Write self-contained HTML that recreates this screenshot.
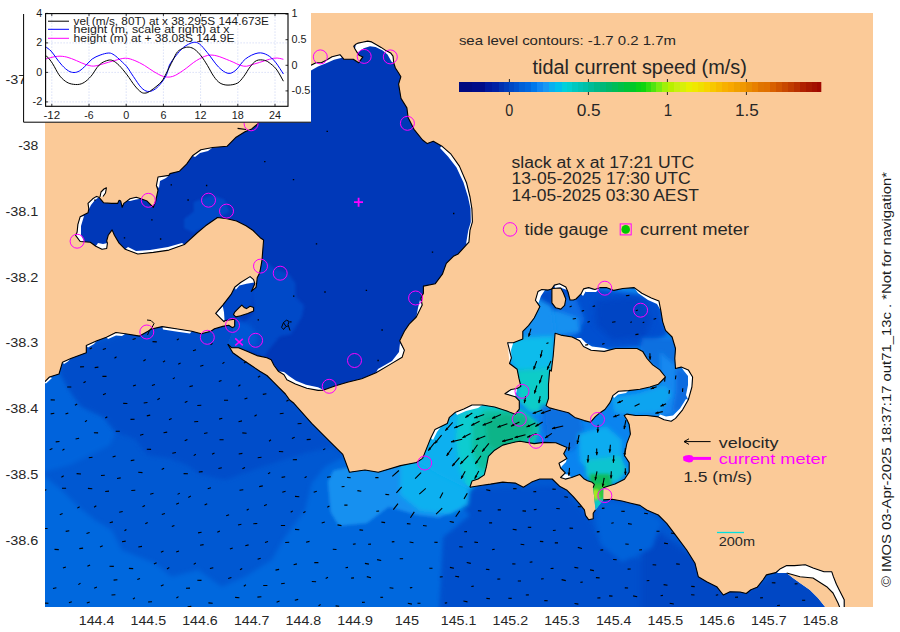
<!DOCTYPE html><html><head><meta charset="utf-8"><style>html,body{margin:0;padding:0;background:#fff;overflow:hidden}svg{display:block}text{font-family:"Liberation Sans",sans-serif}</style></head><body>
<svg width="900" height="632" viewBox="0 0 900 632">
<defs><clipPath id="mc"><rect x="45" y="13" width="828" height="594"/></clipPath>
<clipPath id="c_oc"><polygon points="44.0,382.5 49.5,377.0 59.0,374.0 62.5,362.2 70.8,358.6 86.3,352.7 86.3,345.6 96.9,340.8 106.4,337.3 115.9,332.5 125.4,333.7 139.6,336.1 148.0,331.3 151.5,329.0 162.2,326.6 177.6,329.0 191.8,331.3 201.3,333.7 210.9,331.2 214.5,328.8 222.8,326.4 228.7,325.2 232.3,327.6 234.7,326.4 227.8,344.2 232.8,352.7 242.7,359.8 251.3,365.5 259.8,371.2 266.9,375.5 272.6,381.2 278.3,386.9 285.4,394.0 289.7,400.0 293.9,403.3 311.7,423.3 329.4,441.1 342.8,454.4 349.4,472.2 365.0,470.0 378.3,472.2 400.6,465.6 416.5,462.5 422.6,458.4 469.9,487.2 482.3,485.2 490.5,484.1 502.8,482.1 515.2,483.1 523.4,487.2 531.6,482.1 539.8,479.0 552.2,479.0 560.0,486.6 566.6,489.9 573.3,496.6 580.0,504.3 584.4,509.9 585.5,515.4 588.8,519.8 593.2,518.7 593.2,513.2 595.5,509.9 603.2,499.9 612.1,499.3 622.0,501.0 630.9,503.2 640.0,505.4 646.7,510.0 658.3,515.0 666.7,523.3 676.7,536.7 686.7,550.0 695.0,563.3 698.3,576.7 706.7,581.7 716.7,586.7 723.3,595.0 730.0,591.7 740.0,592.0 746.2,593.5 750.9,589.7 757.1,587.3 763.3,579.5 766.4,574.9 775.8,572.6 780.4,568.7 786.7,565.6 794.4,565.6 805.3,564.8 813.1,567.9 824.0,571.8 831.8,571.8 833.3,576.4 836.4,584.2 839.5,590.4 844.2,599.8 844.2,608.0 45.0,608.0"/></clipPath>
<clipPath id="c_bay"><polygon points="240.0,100.0 311.0,65.3 316.0,62.7 321.3,62.7 326.7,60.0 332.0,56.7 340.0,54.7 344.0,59.3 353.3,59.3 358.7,62.7 360.6,60.1 362.9,56.9 359.0,55.3 357.4,52.9 355.0,49.0 353.8,46.2 355.8,44.2 358.2,43.1 362.2,42.3 367.7,41.1 371.6,41.9 375.6,44.2 381.1,47.4 385.9,50.6 390.6,52.9 393.0,56.1 393.8,63.2 395.4,68.0 398.5,72.7 400.9,76.7 398.6,84.2 401.0,98.4 406.9,107.9 408.1,117.4 414.0,129.3 422.6,140.0 427.3,143.6 433.3,141.2 441.6,145.9 451.0,154.2 459.4,166.1 466.5,182.7 470.0,197.0 471.9,208.8 472.4,221.9 470.0,230.2 468.9,242.1 458.2,253.9 453.4,256.3 446.3,263.4 442.4,274.2 435.3,283.7 423.4,286.1 423.4,293.2 421.0,298.0 422.2,305.1 416.3,317.0 409.2,324.1 404.4,331.2 399.7,340.7 404.4,350.2 402.1,357.3 390.2,364.4 376.0,372.7 361.7,378.7 347.5,382.2 335.6,385.8 323.7,390.1 318.2,390.4 306.8,388.3 295.4,384.0 286.9,379.8 284.0,374.8 278.3,371.2 274.1,365.5 271.2,359.8 266.9,357.7 257.0,355.6 247.0,351.3 238.5,347.7 231.4,347.7 227.8,344.2 234.7,326.4 234.7,319.3 225.2,320.5 224.0,321.7 220.4,318.1 215.7,313.4 222.8,305.1 231.1,294.4 234.7,287.3 240.6,282.5 250.1,276.6 253.6,279.6 254.8,283.7 252.5,289.0 251.3,291.4 256.0,287.3 256.6,283.7 257.2,277.8 259.6,273.0 260.8,267.1 262.0,260.0 263.6,240.0 260.2,237.7 253.1,230.5 246.0,225.8 236.5,221.0 227.0,218.7 217.5,217.5 205.6,225.8 197.0,233.0 184.4,244.6 168.9,250.1 153.3,252.4 137.8,254.0 125.3,249.3 119.1,243.1 114.4,235.3 112.1,229.9 108.2,235.3 106.7,240.8 107.4,243.1 106.7,248.5 102.0,249.3 95.8,246.2 90.3,242.3 80.2,241.5 75.6,235.3 77.1,232.2 77.9,224.4 80.2,216.7 88.0,212.8 88.8,208.9 88.0,203.4 92.7,198.8 96.5,196.4 98.9,197.2 103.5,202.7 111.3,203.4 117.6,203.4 119.1,200.3 120.7,201.1 122.2,207.3 123.8,203.4 126.9,201.1 130.0,198.8 136.2,197.2 140.9,198.8 147.1,201.1 153.3,207.3 155.7,201.1 158.0,190.2 156.4,185.6 158.0,177.0 168.9,175.4 170.0,173.6 179.5,171.2 186.6,164.1 192.5,155.8 200.9,149.8 212.7,147.5 227.0,146.3 236.1,137.2 245.0,131.7 251.7,128.9 258.3,123.3 262.0,115.0"/></clipPath>
<clipPath id="c_wp"><polygon points="422.6,458.4 426.7,448.1 430.8,437.9 435.0,429.6 441.1,426.6 447.3,423.5 449.4,417.3 455.5,412.2 463.8,409.1 472.0,405.0 482.3,405.0 494.6,407.0 506.9,411.1 515.2,414.2 519.3,409.1 519.3,400.8 515.2,396.7 504.9,393.7 511.1,389.5 517.2,388.5 520.9,386.3 519.0,378.7 517.1,369.2 509.5,363.5 511.4,357.8 507.6,342.7 513.3,342.7 522.8,338.9 522.8,331.3 528.5,325.6 534.2,318.0 539.9,306.6 535.4,300.3 538.0,291.4 541.8,289.5 548.1,290.1 551.9,288.9 554.4,285.1 559.5,283.8 565.8,287.0 568.0,292.0 570.0,300.0 573.4,300.0 576.0,299.0 581.0,293.9 583.5,288.9 588.6,287.6 594.9,289.5 600.6,287.6 606.3,287.6 613.9,290.4 622.8,288.5 634.2,287.6 641.8,293.3 651.3,298.0 658.9,300.9 660.8,310.4 662.7,321.8 665.5,330.3 672.1,337.0 675.5,348.5 674.8,358.5 675.5,368.5 681.2,367.1 688.3,369.9 692.6,377.0 691.9,387.0 688.3,399.8 682.6,409.8 675.5,418.4 671.2,421.2 664.1,419.8 658.4,416.9 647.0,415.5 635.6,415.5 627.0,414.1 624.2,415.5 627.0,419.8 629.2,424.6 630.4,434.1 626.8,443.6 624.5,455.5 629.2,462.6 629.2,472.1 624.5,479.2 615.0,484.0 607.8,486.3 603.2,487.7 603.2,499.9 595.5,509.9 593.2,487.7 594.3,484.4 592.2,482.3 587.5,480.7 584.3,479.1 579.6,474.4 571.6,477.5 565.3,479.1 560.6,477.5 565.3,472.8 560.6,468.0 559.0,463.3 566.9,458.5 563.7,453.8 566.9,447.5 555.8,442.7 543.7,442.4 534.2,443.6 520.0,441.2 515.2,442.0 502.8,445.1 494.6,450.2 488.4,456.4 486.4,466.7 484.3,474.9 478.1,479.0 472.0,481.1 469.9,487.2"/></clipPath>
<clipPath id="c_wo"><polygon points="422.6,458.4 426.7,448.1 430.8,437.9 435.0,429.6 441.1,426.6 447.3,423.5 449.4,417.3 455.5,412.2 463.8,409.1 472.0,405.0 482.3,405.0 494.6,407.0 506.9,411.1 515.2,414.2 519.3,409.1 519.3,400.8 515.2,396.7 504.9,393.7 511.1,389.5 517.2,388.5 520.9,386.3 519.0,378.7 517.1,369.2 509.5,363.5 511.4,357.8 507.6,342.7 513.3,342.7 522.8,338.9 522.8,331.3 528.5,325.6 534.2,318.0 539.9,306.6 535.4,300.3 538.0,291.4 541.8,289.5 548.1,290.1 551.9,288.9 554.4,285.1 559.5,283.8 565.8,287.0 568.0,292.0 570.0,300.0 573.4,300.0 576.0,299.0 581.0,293.9 583.5,288.9 588.6,287.6 594.9,289.5 600.6,287.6 606.3,287.6 613.9,290.4 622.8,288.5 634.2,287.6 641.8,293.3 651.3,298.0 658.9,300.9 660.8,310.4 662.7,321.8 665.5,330.3 672.1,337.0 675.5,348.5 674.8,358.5 675.5,368.5 681.2,367.1 688.3,369.9 692.6,377.0 691.9,387.0 688.3,399.8 682.6,409.8 675.5,418.4 671.2,421.2 664.1,419.8 658.4,416.9 647.0,415.5 635.6,415.5 627.0,414.1 624.2,415.5 627.0,419.8 629.2,424.6 630.4,434.1 626.8,443.6 624.5,455.5 629.2,462.6 629.2,472.1 624.5,479.2 615.0,484.0 607.8,486.3 603.2,487.7 603.2,499.9 595.5,509.9 593.2,487.7 594.3,484.4 592.2,482.3 587.5,480.7 584.3,479.1 579.6,474.4 571.6,477.5 565.3,479.1 560.6,477.5 565.3,472.8 560.6,468.0 559.0,463.3 566.9,458.5 563.7,453.8 566.9,447.5 555.8,442.7 543.7,442.4 534.2,443.6 520.0,441.2 515.2,442.0 502.8,445.1 494.6,450.2 488.4,456.4 486.4,466.7 484.3,474.9 478.1,479.0 472.0,481.1 469.9,487.2"/><polygon points="44.0,382.5 49.5,377.0 59.0,374.0 62.5,362.2 70.8,358.6 86.3,352.7 86.3,345.6 96.9,340.8 106.4,337.3 115.9,332.5 125.4,333.7 139.6,336.1 148.0,331.3 151.5,329.0 162.2,326.6 177.6,329.0 191.8,331.3 201.3,333.7 210.9,331.2 214.5,328.8 222.8,326.4 228.7,325.2 232.3,327.6 234.7,326.4 227.8,344.2 232.8,352.7 242.7,359.8 251.3,365.5 259.8,371.2 266.9,375.5 272.6,381.2 278.3,386.9 285.4,394.0 289.7,400.0 293.9,403.3 311.7,423.3 329.4,441.1 342.8,454.4 349.4,472.2 365.0,470.0 378.3,472.2 400.6,465.6 416.5,462.5 422.6,458.4 469.9,487.2 482.3,485.2 490.5,484.1 502.8,482.1 515.2,483.1 523.4,487.2 531.6,482.1 539.8,479.0 552.2,479.0 560.0,486.6 566.6,489.9 573.3,496.6 580.0,504.3 584.4,509.9 585.5,515.4 588.8,519.8 593.2,518.7 593.2,513.2 595.5,509.9 603.2,499.9 612.1,499.3 622.0,501.0 630.9,503.2 640.0,505.4 646.7,510.0 658.3,515.0 666.7,523.3 676.7,536.7 686.7,550.0 695.0,563.3 698.3,576.7 706.7,581.7 716.7,586.7 723.3,595.0 730.0,591.7 740.0,592.0 746.2,593.5 750.9,589.7 757.1,587.3 763.3,579.5 766.4,574.9 775.8,572.6 780.4,568.7 786.7,565.6 794.4,565.6 805.3,564.8 813.1,567.9 824.0,571.8 831.8,571.8 833.3,576.4 836.4,584.2 839.5,590.4 844.2,599.8 844.2,608.0 45.0,608.0"/></clipPath>
<filter id="b1" x="-30%" y="-30%" width="160%" height="160%"><feGaussianBlur stdDeviation="1"/></filter>
<filter id="b1_5" x="-30%" y="-30%" width="160%" height="160%"><feGaussianBlur stdDeviation="1.5"/></filter>
<filter id="b2" x="-30%" y="-30%" width="160%" height="160%"><feGaussianBlur stdDeviation="2"/></filter>
<filter id="b3" x="-30%" y="-30%" width="160%" height="160%"><feGaussianBlur stdDeviation="3"/></filter>
<filter id="b4" x="-30%" y="-30%" width="160%" height="160%"><feGaussianBlur stdDeviation="4"/></filter>
<filter id="b5" x="-30%" y="-30%" width="160%" height="160%"><feGaussianBlur stdDeviation="5"/></filter>
</defs>
<rect width="900" height="632" fill="#fff"/>
<g clip-path="url(#mc)">
<rect x="45" y="13" width="828" height="594" fill="#FBCA98"/>
<polygon points="44.0,382.5 49.5,377.0 59.0,374.0 62.5,362.2 70.8,358.6 86.3,352.7 86.3,345.6 96.9,340.8 106.4,337.3 115.9,332.5 125.4,333.7 139.6,336.1 148.0,331.3 151.5,329.0 162.2,326.6 177.6,329.0 191.8,331.3 201.3,333.7 210.9,331.2 214.5,328.8 222.8,326.4 228.7,325.2 232.3,327.6 234.7,326.4 227.8,344.2 232.8,352.7 242.7,359.8 251.3,365.5 259.8,371.2 266.9,375.5 272.6,381.2 278.3,386.9 285.4,394.0 289.7,400.0 293.9,403.3 311.7,423.3 329.4,441.1 342.8,454.4 349.4,472.2 365.0,470.0 378.3,472.2 400.6,465.6 416.5,462.5 422.6,458.4 469.9,487.2 482.3,485.2 490.5,484.1 502.8,482.1 515.2,483.1 523.4,487.2 531.6,482.1 539.8,479.0 552.2,479.0 560.0,486.6 566.6,489.9 573.3,496.6 580.0,504.3 584.4,509.9 585.5,515.4 588.8,519.8 593.2,518.7 593.2,513.2 595.5,509.9 603.2,499.9 612.1,499.3 622.0,501.0 630.9,503.2 640.0,505.4 646.7,510.0 658.3,515.0 666.7,523.3 676.7,536.7 686.7,550.0 695.0,563.3 698.3,576.7 706.7,581.7 716.7,586.7 723.3,595.0 730.0,591.7 740.0,592.0 746.2,593.5 750.9,589.7 757.1,587.3 763.3,579.5 766.4,574.9 775.8,572.6 780.4,568.7 786.7,565.6 794.4,565.6 805.3,564.8 813.1,567.9 824.0,571.8 831.8,571.8 833.3,576.4 836.4,584.2 839.5,590.4 844.2,599.8 844.2,608.0 45.0,608.0" fill="#0058D2" />
<polygon points="240.0,100.0 311.0,65.3 316.0,62.7 321.3,62.7 326.7,60.0 332.0,56.7 340.0,54.7 344.0,59.3 353.3,59.3 358.7,62.7 360.6,60.1 362.9,56.9 359.0,55.3 357.4,52.9 355.0,49.0 353.8,46.2 355.8,44.2 358.2,43.1 362.2,42.3 367.7,41.1 371.6,41.9 375.6,44.2 381.1,47.4 385.9,50.6 390.6,52.9 393.0,56.1 393.8,63.2 395.4,68.0 398.5,72.7 400.9,76.7 398.6,84.2 401.0,98.4 406.9,107.9 408.1,117.4 414.0,129.3 422.6,140.0 427.3,143.6 433.3,141.2 441.6,145.9 451.0,154.2 459.4,166.1 466.5,182.7 470.0,197.0 471.9,208.8 472.4,221.9 470.0,230.2 468.9,242.1 458.2,253.9 453.4,256.3 446.3,263.4 442.4,274.2 435.3,283.7 423.4,286.1 423.4,293.2 421.0,298.0 422.2,305.1 416.3,317.0 409.2,324.1 404.4,331.2 399.7,340.7 404.4,350.2 402.1,357.3 390.2,364.4 376.0,372.7 361.7,378.7 347.5,382.2 335.6,385.8 323.7,390.1 318.2,390.4 306.8,388.3 295.4,384.0 286.9,379.8 284.0,374.8 278.3,371.2 274.1,365.5 271.2,359.8 266.9,357.7 257.0,355.6 247.0,351.3 238.5,347.7 231.4,347.7 227.8,344.2 234.7,326.4 234.7,319.3 225.2,320.5 224.0,321.7 220.4,318.1 215.7,313.4 222.8,305.1 231.1,294.4 234.7,287.3 240.6,282.5 250.1,276.6 253.6,279.6 254.8,283.7 252.5,289.0 251.3,291.4 256.0,287.3 256.6,283.7 257.2,277.8 259.6,273.0 260.8,267.1 262.0,260.0 263.6,240.0 260.2,237.7 253.1,230.5 246.0,225.8 236.5,221.0 227.0,218.7 217.5,217.5 205.6,225.8 197.0,233.0 184.4,244.6 168.9,250.1 153.3,252.4 137.8,254.0 125.3,249.3 119.1,243.1 114.4,235.3 112.1,229.9 108.2,235.3 106.7,240.8 107.4,243.1 106.7,248.5 102.0,249.3 95.8,246.2 90.3,242.3 80.2,241.5 75.6,235.3 77.1,232.2 77.9,224.4 80.2,216.7 88.0,212.8 88.8,208.9 88.0,203.4 92.7,198.8 96.5,196.4 98.9,197.2 103.5,202.7 111.3,203.4 117.6,203.4 119.1,200.3 120.7,201.1 122.2,207.3 123.8,203.4 126.9,201.1 130.0,198.8 136.2,197.2 140.9,198.8 147.1,201.1 153.3,207.3 155.7,201.1 158.0,190.2 156.4,185.6 158.0,177.0 168.9,175.4 170.0,173.6 179.5,171.2 186.6,164.1 192.5,155.8 200.9,149.8 212.7,147.5 227.0,146.3 236.1,137.2 245.0,131.7 251.7,128.9 258.3,123.3 262.0,115.0" fill="#0038B8" />
<polygon points="422.6,458.4 426.7,448.1 430.8,437.9 435.0,429.6 441.1,426.6 447.3,423.5 449.4,417.3 455.5,412.2 463.8,409.1 472.0,405.0 482.3,405.0 494.6,407.0 506.9,411.1 515.2,414.2 519.3,409.1 519.3,400.8 515.2,396.7 504.9,393.7 511.1,389.5 517.2,388.5 520.9,386.3 519.0,378.7 517.1,369.2 509.5,363.5 511.4,357.8 507.6,342.7 513.3,342.7 522.8,338.9 522.8,331.3 528.5,325.6 534.2,318.0 539.9,306.6 535.4,300.3 538.0,291.4 541.8,289.5 548.1,290.1 551.9,288.9 554.4,285.1 559.5,283.8 565.8,287.0 568.0,292.0 570.0,300.0 573.4,300.0 576.0,299.0 581.0,293.9 583.5,288.9 588.6,287.6 594.9,289.5 600.6,287.6 606.3,287.6 613.9,290.4 622.8,288.5 634.2,287.6 641.8,293.3 651.3,298.0 658.9,300.9 660.8,310.4 662.7,321.8 665.5,330.3 672.1,337.0 675.5,348.5 674.8,358.5 675.5,368.5 681.2,367.1 688.3,369.9 692.6,377.0 691.9,387.0 688.3,399.8 682.6,409.8 675.5,418.4 671.2,421.2 664.1,419.8 658.4,416.9 647.0,415.5 635.6,415.5 627.0,414.1 624.2,415.5 627.0,419.8 629.2,424.6 630.4,434.1 626.8,443.6 624.5,455.5 629.2,462.6 629.2,472.1 624.5,479.2 615.0,484.0 607.8,486.3 603.2,487.7 603.2,499.9 595.5,509.9 593.2,487.7 594.3,484.4 592.2,482.3 587.5,480.7 584.3,479.1 579.6,474.4 571.6,477.5 565.3,479.1 560.6,477.5 565.3,472.8 560.6,468.0 559.0,463.3 566.9,458.5 563.7,453.8 566.9,447.5 555.8,442.7 543.7,442.4 534.2,443.6 520.0,441.2 515.2,442.0 502.8,445.1 494.6,450.2 488.4,456.4 486.4,466.7 484.3,474.9 478.1,479.0 472.0,481.1 469.9,487.2" fill="#0A84F0" />
<g clip-path="url(#c_oc)">
<polygon points="40.0,378.0 60.0,372.0 69.0,389.0 81.0,406.0 104.0,417.0 116.0,432.0 110.0,445.0 90.0,455.0 70.0,465.0 40.0,473.0" fill="#0064DC" filter="url(#b2)"/>
<polygon points="60.0,372.0 70.0,355.0 90.0,345.0 150.0,327.0 240.0,318.0 300.0,410.0 345.0,457.0 332.0,447.0 305.0,453.0 262.0,467.0 225.0,480.0 199.0,474.0 187.0,465.0 168.0,458.0 147.0,455.0 135.0,439.0 116.0,432.0 104.0,417.0 81.0,406.0 69.0,389.0" fill="#004ECA" filter="url(#b2)"/>
<polygon points="40.0,473.0 61.7,490.0 78.3,506.7 95.0,520.0 111.7,530.0 121.7,550.0 155.0,563.3 171.7,576.7 198.3,570.0 221.7,586.7 245.0,576.7 271.7,560.0 285.0,536.7 305.0,510.0 311.7,483.3 325.0,466.7 345.0,456.7 360.0,470.0 400.0,500.0 472.0,500.0 480.0,520.0 470.0,530.0 444.0,537.0 440.0,612.0 40.0,612.0" fill="#0068DE" filter="url(#b2)"/>
<polygon points="445.0,490.0 560.0,486.0 590.0,520.0 600.0,545.0 640.0,560.0 700.0,575.0 735.0,612.0 440.0,612.0 444.0,537.0 470.0,515.0" fill="#0050CC" filter="url(#b2)"/>
<polygon points="641.0,520.0 700.0,560.0 750.0,588.0 790.0,566.0 830.0,575.0 850.0,612.0 641.0,612.0" fill="#0046C4" filter="url(#b3)"/>
<polygon points="598.0,500.0 640.0,505.0 662.0,522.0 652.0,548.0 622.0,562.0 602.0,545.0 596.0,522.0" fill="#0062DA" filter="url(#b2)"/>
<polygon points="327.8,481.7 333.3,470.6 347.2,467.8 405.6,465.0 427.8,456.7 466.7,481.7 461.0,506.7 438.9,517.8 416.7,515.0 388.9,506.7 366.7,523.3 338.9,526.1 330.6,512.2" fill="#1890F0" filter="url(#b1_5)"/>
<polygon points="400.0,462.0 424.0,456.0 470.0,487.0 468.0,505.0 450.0,514.0 420.0,511.0 400.0,495.0" fill="#10B0F0" filter="url(#b2)"/>
</g>
<g clip-path="url(#c_bay)">
<polygon points="262.0,258.0 273.0,267.7 288.7,274.3 295.3,283.2 295.3,296.5 304.2,305.4 302.0,316.5 295.3,327.6 290.9,334.2 279.8,336.4 268.7,349.7 264.3,356.4 250.0,352.0 235.0,348.0 228.0,344.0 240.0,326.0 254.0,312.0 252.0,292.0 256.0,280.0" fill="#0048C8" filter="url(#b1_5)"/>
<polygon points="193.7,202.0 212.7,195.0 224.6,199.7 229.3,211.6 217.5,218.7 205.6,225.8 193.7,232.9 184.2,228.2 184.2,218.7 193.7,211.6" fill="#0048C8" filter="url(#b1)"/>
<polygon points="212.0,330.0 222.0,320.0 235.0,318.0 250.0,325.0 258.0,335.0 256.0,346.0 240.0,349.0 228.0,347.0 214.0,338.0" fill="#0056D4" filter="url(#b2)"/>
<polygon points="216.0,312.0 236.0,284.0 252.0,278.0 254.0,292.0 252.0,306.0 236.0,318.0 224.0,322.0" fill="#0046C8" filter="url(#b1_5)"/>
</g>
<g clip-path="url(#c_wo)">
<polygon points="418.0,462.0 428.0,432.0 445.0,418.0 470.0,402.0 500.0,404.0 520.0,412.0 530.0,440.0 500.0,452.0 480.0,480.0 470.0,490.0 440.0,475.0" fill="#10B0F0" filter="url(#b2)"/>
</g>
<g clip-path="url(#c_wp)">
<polygon points="553.0,282.0 660.0,298.0 664.0,322.0 668.0,334.0 650.0,346.0 600.0,350.0 585.0,346.0 575.0,338.0 560.0,335.0 556.0,318.0 546.0,308.0 548.0,292.0" fill="#0050D0" filter="url(#b2)"/>
<polygon points="595.0,300.0 640.0,296.0 652.0,318.0 645.0,338.0 612.0,340.0 596.0,325.0" fill="#0044C4" filter="url(#b3)"/>
<polygon points="545.0,300.0 575.0,296.0 585.0,320.0 575.0,336.0 556.0,334.0 548.0,318.0" fill="#0A6CE4" filter="url(#b2)"/>
<polygon points="536.0,290.0 552.0,290.0 556.0,306.0 560.0,312.0 548.0,314.0 538.0,310.0" fill="#0048C8" filter="url(#b2)"/>
<polygon points="528.0,312.0 556.0,310.0 578.0,318.0 580.0,332.0 556.0,336.0 528.0,336.0" fill="#1890F0" filter="url(#b2)"/>
<polygon points="534.0,296.0 552.0,306.0 556.0,336.0 540.0,342.0 524.0,340.0 528.0,325.0" fill="#1890F0" filter="url(#b2)"/>
<polygon points="506.0,338.0 554.0,336.0 553.0,372.0 516.0,372.0 510.0,360.0" fill="#10BCEC" filter="url(#b2)"/>
<polygon points="516.0,370.0 551.0,368.0 550.0,412.0 530.0,412.0 518.0,400.0" fill="#10CCC8" filter="url(#b2)"/>
<polygon points="458.0,415.0 475.0,406.0 500.0,405.0 525.0,412.0 540.0,428.0 530.0,448.0 505.0,455.0 490.0,470.0 480.0,486.0 468.0,488.0 460.0,470.0 456.0,440.0" fill="#10CCD0" filter="url(#b2)"/>
<polygon points="472.0,425.0 485.0,410.0 520.0,410.0 540.0,425.0 535.0,442.0 515.0,452.0 500.0,462.0 490.0,472.0 478.0,468.0 472.0,450.0" fill="#10C0A0" filter="url(#b2)"/>
<polygon points="485.0,420.0 505.0,414.0 525.0,416.0 532.0,430.0 520.0,445.0 500.0,452.0 488.0,445.0" fill="#10B488" filter="url(#b2)"/>
<polygon points="541.0,405.0 572.0,410.0 570.0,444.0 548.0,443.0 541.0,430.0" fill="#0A70E4" filter="url(#b2)"/>
<polygon points="642.0,338.0 678.0,338.0 692.0,370.0 693.0,392.0 684.0,410.0 666.0,420.0 650.0,404.0 660.0,386.0 666.0,377.0 650.0,362.0 640.0,350.0" fill="#0A70E0" filter="url(#b2)"/>
<polygon points="660.0,352.0 684.0,372.0 690.0,392.0 680.0,410.0 662.0,418.0 640.0,416.0 615.0,416.0 618.0,400.0 640.0,395.0 660.0,385.0" fill="#1888F0" filter="url(#b2)"/>
<polygon points="545.0,408.0 580.0,414.0 585.0,440.0 570.0,452.0 548.0,446.0" fill="#0A70E0" filter="url(#b2)"/>
<polygon points="612.0,398.0 640.0,393.0 665.0,385.0 672.0,395.0 660.0,412.0 630.0,414.0 614.0,412.0" fill="#10A4F0" filter="url(#b2)"/>
<polygon points="676.0,368.0 692.0,375.0 692.0,392.0 684.0,410.0 672.0,412.0 676.0,390.0" fill="#0A6CE0" filter="url(#b2)"/>
<polygon points="578.0,434.0 606.0,426.0 622.0,440.0 622.0,470.0 600.0,478.0 580.0,462.0" fill="#10ACF0" filter="url(#b2)"/>
<polygon points="586.0,460.0 620.0,456.0 627.0,470.0 618.0,482.0 600.0,484.0 586.0,476.0" fill="#10C4D0" filter="url(#b2)"/>
<polygon points="590.0,474.0 610.0,474.0 612.0,486.0 602.0,494.0 590.0,488.0" fill="#10BC60" filter="url(#b1_5)"/>
<polygon points="592.0,484.0 606.0,484.0 606.0,500.0 596.0,504.0 590.0,494.0" fill="#30C840" filter="url(#b1_5)"/>
<polygon points="591.0,490.0 598.0,489.0 600.0,500.0 594.0,502.0" fill="#A0E820" filter="url(#b1)"/>
<polygon points="594.0,500.0 608.0,498.0 612.0,510.0 600.0,514.0 594.0,508.0" fill="#10C8C8" filter="url(#b1_5)"/>
</g>
<polygon points="555.1,333.2 560.8,335.1 572.1,337.0 579.7,340.8 583.5,346.5 591.1,350.2 604.2,351.4 615.6,348.5 637.0,348.5 642.7,351.4 647.0,358.5 652.7,364.9 659.8,369.9 665.5,377.0 658.4,384.2 649.8,387.0 639.9,389.2 628.5,390.6 618.5,391.3 612.8,395.6 611.2,400.0 609.6,403.2 604.9,409.5 600.1,412.7 595.4,416.6 590.6,422.2 584.3,420.6 574.8,417.4 568.5,412.7 555.8,409.5 549.5,407.9 546.1,405.6 548.5,398.5 548.5,384.2 549.7,370.0 551.3,371.1 553.2,356.0" fill="#FBCA98" />
<polygon points="106.4,337.3 115.9,332.5 125.4,333.7 122.0,336.0 116.0,335.5 108.0,339.0" fill="#fff" />
<polygon points="162.2,326.6 177.6,329.0 191.8,331.3 190.0,333.5 176.0,331.5 163.0,329.5" fill="#fff" />
<polygon points="86.3,345.6 96.9,340.8 94.0,344.0 88.0,347.5" fill="#fff" />
<polygon points="62.5,362.2 70.8,358.6 68.0,361.5 64.0,364.0" fill="#fff" />
<polygon points="44.0,382.5 49.5,377.0 52.0,378.0 46.0,383.5" fill="#fff" />
<polygon points="100.0,197.0 101.0,192.0 104.0,189.0 106.4,187.8 105.5,193.0 103.0,196.5" fill="#fff" />
<polygon points="216.1,313.6 222.8,306.3 224.0,312.2 224.6,321.7 220.4,318.1" fill="#fff" />
<polygon points="234.7,287.3 240.6,282.5 250.1,276.6 253.6,279.6 254.2,282.5 246.5,283.7 239.4,285.5 235.8,289.7" fill="#fff" />
<polygon points="780.4,568.7 786.7,565.6 794.4,565.6 805.3,564.8 813.1,567.9 824.0,571.8 831.8,571.8 833.3,576.4 836.4,584.2 839.5,590.4 844.2,599.8 844.2,608.0 826.0,608.0 818.0,598.0 810.0,590.0 800.0,583.0 793.0,578.0 786.7,573.0 777.0,573.0" fill="#fff" />
<polygon points="77.1,232.2 77.9,224.4 80.2,216.7 84.0,216.0 81.0,226.0 81.0,235.0 84.0,241.0 80.2,241.5 75.6,235.3" fill="#fff" />
<polygon points="95.8,246.2 102.0,249.3 106.7,248.5 107.4,243.1 103.0,244.0 98.0,243.0" fill="#fff" />
<polygon points="125.3,249.3 137.8,254.0 153.3,252.4 168.9,250.1 184.4,244.6 182.0,243.0 168.0,247.0 150.0,250.0 136.0,251.0 128.0,247.0" fill="#fff" />
<polygon points="88.0,203.4 92.7,198.8 96.5,196.4 98.9,197.2 95.0,200.0 91.0,205.0 89.0,209.0" fill="#fff" />
<polygon points="156.4,185.6 158.0,177.0 168.9,175.4 166.0,178.0 160.0,181.0 159.0,188.0" fill="#fff" />
<polygon points="127.0,200.5 130.0,198.8 136.2,197.2 140.9,198.8 136.0,199.5 130.0,201.0" fill="#fff" />
<polygon points="441.6,145.9 451.0,154.2 459.4,166.1 466.5,182.7 470.0,197.0 471.9,208.8 472.4,221.9 470.0,230.2 468.9,242.1 466.0,244.0 468.3,230.2 470.8,221.9 470.5,208.8 468.0,197.0 463.5,182.5 456.5,167.5 448.0,156.5 440.0,148.0" fill="#fff" />
<polygon points="404.4,350.2 402.1,357.3 390.2,364.4 376.0,372.7 378.0,369.0 392.0,361.0 399.0,352.0 400.0,343.0" fill="#fff" />
<polygon points="278.3,371.2 284.0,374.8 286.9,379.8 295.4,384.0 306.8,388.3 318.2,390.4 323.7,390.1 318.0,387.2 306.0,384.8 296.0,380.8 289.0,376.0 284.0,372.0" fill="#fff" />
<polygon points="355.8,44.2 358.2,43.1 362.2,42.3 367.7,41.1 371.6,41.9 375.6,44.2 381.1,47.4 385.9,50.6 390.6,52.9 393.0,56.1 393.8,63.2 391.4,61.6 387.5,54.5 382.7,50.6 375.6,47.0 370.0,46.2 363.7,48.2 358.2,52.2 357.4,52.9 355.0,49.0" fill="#fff" />
<polygon points="311.0,65.3 316.0,62.7 321.3,62.7 326.7,60.0 332.0,56.7 340.0,54.7 342.0,57.8 334.0,59.8 326.7,63.0 318.0,66.5 311.0,70.5" fill="#fff" />
<polygon points="192.5,155.8 200.9,149.8 212.7,147.5 208.0,151.0 200.0,153.0 195.0,157.0" fill="#fff" />
<polygon points="422.2,305.1 416.3,317.0 418.0,308.0 420.0,300.0" fill="#fff" />
<polygon points="535.4,300.3 538.0,291.4 541.8,289.5 545.0,290.0 541.0,296.0 538.5,303.0" fill="#fff" />
<polygon points="554.4,285.1 559.5,283.8 565.8,287.0 567.0,290.0 560.0,287.5 555.0,288.0" fill="#fff" />
<polygon points="581.0,293.9 583.5,288.9 588.6,287.6 592.0,289.0 586.0,291.0 583.0,296.0" fill="#fff" />
<polygon points="507.6,342.7 513.3,342.7 511.0,350.0 511.4,357.8 509.5,363.5" fill="#fff" />
<polygon points="504.9,393.7 511.1,389.5 517.2,388.5 516.0,394.0 515.2,396.7" fill="#fff" />
<polygon points="583.5,288.5 594.9,289.5 600.6,287.6 596.0,292.0 586.0,292.0" fill="#fff" />
<polygon points="634.2,287.6 641.8,293.3 651.3,298.0 658.9,300.9 660.8,310.4 657.0,304.0 648.0,300.0 638.0,293.0" fill="#fff" />
<polygon points="681.2,367.1 688.3,369.9 692.6,377.0 691.9,387.0 688.3,399.8 686.0,395.0 688.0,385.0 688.0,376.0 684.0,371.0" fill="#fff" />
<polygon points="576.0,338.0 579.7,340.8 583.5,346.5 591.1,350.2 604.2,351.4 610.0,350.0 604.0,348.0 592.0,346.5 586.0,343.0 581.0,338.0" fill="#fff" />
<polygon points="612.8,395.6 618.5,391.3 628.5,390.6 626.0,393.0 618.0,394.5 614.0,398.0" fill="#fff" />
<polygon points="658.4,416.9 664.1,419.8 671.2,421.2 675.5,418.4 682.6,409.8 688.3,399.8 686.0,399.0 680.0,408.5 673.0,415.5 666.0,416.5 660.0,414.5" fill="#fff" />
<polygon points="455.5,412.2 463.8,409.1 472.0,405.0 482.3,405.0 478.0,408.0 466.0,411.0 457.0,415.0" fill="#fff" />
<polygon points="430.8,437.9 435.0,429.6 441.1,426.6 437.0,432.0 433.0,440.0" fill="#fff" />
<polygon points="559.0,463.3 566.9,458.5 566.0,462.0 562.0,466.0 560.6,468.0" fill="#fff" />
<polygon points="560.6,477.5 565.3,479.1 571.6,477.5 568.0,474.5 564.0,474.0" fill="#fff" />
<polygon points="233.5,314.6 234.7,312.2 239.4,307.4 241.8,305.1 244.1,307.4 246.5,308.6 250.1,306.3 253.6,307.4 253.6,311.0 247.7,313.4 240.6,315.8 235.8,316.9" fill="#FBCA98" />
<polygon points="551.9,288.5 551.9,302.8 555.7,307.8 560.8,309.1 564.6,305.3 565.8,299.0 563.3,292.7 560.8,288.0" fill="#FBCA98" />
<polygon points="786.7,573.0 800.0,576.7 813.0,578.0 826.7,586.7 833.0,593.0 838.0,603.0 840.0,608.0 826.0,608.0 818.0,598.0 810.0,590.0 800.0,583.0 793.0,578.0" fill="#FBCA98" />
<path d="M89.7,349.1L91.9,347.8M102.8,349.5L105.9,348.5M132.6,339.5L135.7,338.5M152.5,341.6L156.8,341.9M176.8,340.1L178.8,338.7M193.0,350.8L196.0,349.7M210.6,344.7L212.6,343.4M80.1,366.9L84.1,366.8M94.7,367.6L98.4,367.1M114.5,358.2L116.5,356.8M143.4,360.9L145.7,359.6M162.9,362.1L165.1,360.7M178.2,364.2L180.6,363.0M200.2,366.3L203.4,365.3M222.4,363.6L224.4,362.3M243.9,363.0L246.4,361.7M67.2,387.0L71.3,387.0M83.5,382.8L85.7,381.5M102.4,376.4L106.5,376.4M133.0,386.0L135.9,384.9M151.9,385.5L154.9,384.4M172.8,378.9L174.9,377.6M189.5,386.6L192.9,385.8M218.8,381.6L221.5,380.4M238.4,386.2L240.4,384.8M257.9,377.3L260.2,376.0M50.7,399.9L54.9,400.0M74.9,405.2L77.2,403.9M103.0,394.8L105.8,393.6M123.2,403.4L127.4,403.5M143.7,403.0L147.5,402.5M157.4,399.7L159.8,398.3M184.8,402.4L187.4,401.2M197.3,405.5L201.3,405.3M224.0,400.3L228.1,400.3M244.5,399.1L247.4,398.0M262.8,394.4L266.4,393.8M286.4,401.3L288.6,400.0M50.7,413.9L54.3,413.2M65.5,414.1L68.3,412.9M85.0,421.8L87.0,420.4M105.3,418.0L107.3,416.7M130.5,419.4L134.6,419.3M146.8,415.9L150.2,415.1M169.0,419.7L171.6,418.5M194.2,421.7L198.2,421.5M219.1,419.1L222.3,418.2M238.5,421.7L242.0,420.9M254.5,416.2L256.7,414.8M279.8,413.7L283.6,413.3M297.6,423.8L301.5,423.5M55.7,441.9L59.5,441.5M75.6,439.0L79.1,438.3M93.9,432.8L98.1,432.9M115.7,431.3L119.8,431.2M140.1,435.2L143.4,434.3M163.5,432.7L167.2,432.1M184.7,440.7L187.4,439.5M204.1,433.5L207.5,432.8M219.5,439.8L223.6,439.8M242.3,432.9L246.6,433.2M269.0,441.2L271.0,439.8M291.9,438.4L294.7,437.2M306.7,439.6L310.7,439.4M49.7,449.7L52.4,448.5M62.4,450.4L64.4,449.0M88.8,457.8L92.5,457.3M112.6,457.1L115.6,456.0M130.8,460.6L134.4,460.0M146.8,449.3L151.1,449.4M172.3,453.2L175.9,452.5M193.7,455.6L195.8,454.2M212.0,454.2L214.5,452.9M238.7,454.0L242.4,453.4M257.7,457.7L261.5,457.3M278.9,451.5L283.2,451.8M292.8,459.7L296.9,459.6M323.1,449.9L325.3,448.6M61.4,477.2L63.7,475.8M76.6,473.6L81.0,474.0M101.0,475.5L104.8,475.2M117.0,478.5L120.7,477.9M138.2,472.3L142.5,472.6M161.7,469.6L164.1,468.2M183.6,473.6L187.9,473.7M198.8,472.0L202.6,471.6M218.4,468.5L221.8,467.7M242.4,468.8L245.0,467.6M268.0,473.9L270.2,472.5M281.6,477.4L285.2,476.8M304.6,477.9L306.6,476.5M327.0,477.3L330.8,476.8M347.1,477.4L350.7,477.7M375.3,477.6L378.5,477.6M398.9,470.5L392.3,476.3M421.1,472.6L415.1,478.6M44.2,490.8L46.3,489.5M62.0,488.3L66.1,488.3M87.9,488.4L92.3,488.8M105.2,491.5L109.0,491.1M131.3,490.5L135.3,490.2M150.2,494.2L153.5,493.3M177.6,494.4L179.8,493.1M188.3,497.4L190.8,496.1M207.7,488.7L210.9,487.7M239.5,490.2L243.3,489.7M259.2,486.6L262.8,485.9M282.3,492.2L285.6,491.3M295.0,496.4L299.3,496.7M313.7,492.3L316.8,491.3M341.6,486.7L344.5,486.5M357.4,490.6L361.3,491.3M385.4,494.4L389.2,494.8M401.7,486.8L396.4,492.8M425.8,488.3L419.3,494.2M442.9,492.6L439.9,498.2M467.3,493.2L464.0,498.9M486.2,489.7L490.3,490.6M513.2,488.6L516.6,488.7M533.3,491.8L536.2,491.6M552.4,489.1L555.8,489.3M564.3,496.8L567.9,497.2M59.8,514.7L62.6,513.6M77.3,508.1L79.6,506.7M94.1,507.2L96.3,505.8M119.2,512.2L122.7,511.5M142.5,506.8L145.0,505.5M161.8,514.5L164.9,513.5M176.2,504.3L178.9,503.1M204.6,505.1L207.2,503.8M226.2,515.8L229.1,514.7M246.7,510.3L248.7,509.0M264.1,505.7L266.8,504.5M290.7,512.3L292.8,510.9M303.3,512.8L305.5,511.5M327.3,507.3L329.4,506.0M344.3,505.1L347.5,505.1M376.3,511.2L379.1,511.0M398.0,503.7L393.3,509.7M414.3,511.9L410.4,517.7M442.2,508.2L436.1,514.1M459.8,510.9L455.7,516.8M477.9,510.8L481.4,511.0M497.7,509.9L500.9,509.9M522.5,510.9L526.0,511.1M533.8,509.7L536.5,509.4M556.3,508.5L559.8,508.8M577.8,506.6L581.2,506.8M601.9,508.4L604.5,508.1M621.2,511.2L624.7,511.4M644.1,513.3L647.9,513.8M43.5,528.4L47.6,528.5M65.7,531.4L69.3,530.7M86.5,533.4L89.6,532.4M109.7,522.8L112.9,521.9M124.5,530.8L126.4,529.5M145.3,523.7L147.7,522.4M171.8,526.6L174.4,525.4M198.0,532.9L201.6,532.3M217.3,532.2L219.9,530.9M238.0,525.0L241.4,524.2M253.3,523.7L257.3,523.5M280.9,525.5L285.1,525.5M295.0,529.4L299.3,529.8M321.7,522.9L324.8,521.9M337.5,524.9L341.5,525.6M359.5,529.9L363.1,530.3M381.4,522.1L385.1,522.6M406.9,523.6L410.5,524.0M423.0,525.5L426.7,526.0M449.7,521.5L453.8,522.4M464.2,531.8L467.0,531.6M489.1,522.9L492.1,522.9M512.7,529.2L516.6,529.9M527.8,527.3L531.2,527.4M552.9,530.5L555.7,530.3M569.5,528.1L573.1,528.3M596.8,531.9L599.5,531.6M611.3,523.2L613.7,522.8M628.0,523.6L631.8,524.2M656.5,531.3L659.5,531.2M670.9,533.0L674.9,533.7M54.5,549.4L58.8,549.6M79.3,548.6L83.1,548.1M100.0,547.0L102.7,545.8M122.0,541.7L125.7,541.1M138.3,547.0L142.0,546.4M160.9,552.3L163.5,551.1M176.2,552.0L179.0,550.9M200.1,545.3L203.6,544.6M229.9,549.0L232.7,547.9M245.3,545.8L248.6,544.9M265.0,542.5L268.0,541.5M285.2,542.5L289.2,542.3M306.1,542.2L309.5,541.4M332.8,549.2L336.5,549.5M352.9,544.2L355.6,543.9M368.1,544.2L371.0,544.1M391.8,541.9L394.4,541.6M409.6,542.0L413.5,542.7M434.3,542.3L437.6,542.4M459.2,546.8L462.7,547.0M474.4,542.1L478.0,542.5M492.2,549.6L494.7,549.2M520.6,544.3L524.3,544.8M539.9,541.4L543.3,541.6M554.8,542.9L558.0,542.9M577.8,547.4L582.0,548.5M600.4,550.1L603.2,549.9M625.3,544.0L628.7,544.2M639.2,550.0L642.0,549.8M664.1,543.1L668.0,543.8M62.9,567.9L65.9,566.9M87.4,566.2L90.1,565.0M109.5,566.2L113.8,566.4M128.9,568.4L133.2,568.6M153.9,563.9L156.6,562.7M167.0,568.9L169.3,567.6M193.7,564.4L195.8,563.0M209.9,568.5L213.3,567.7M240.0,569.8L242.2,568.5M257.6,559.3L260.7,558.2M275.5,570.1L279.1,569.4M293.6,564.8L296.9,563.9M314.3,562.6L318.4,562.6M345.5,567.7L348.0,567.4M364.9,563.4L368.9,564.1M377.1,559.6L381.2,560.5M399.7,558.7L403.1,558.8M429.3,568.3L432.5,568.3M449.9,567.4L453.9,568.2M466.7,562.5L470.8,563.4M485.9,569.3L489.4,569.6M512.3,563.9L515.5,564.0M529.7,562.2L532.4,561.9M550.6,568.5L553.5,568.4M574.4,567.4L578.3,568.0M590.0,569.9L593.9,570.6M613.1,559.5L616.7,559.7M627.6,569.1L630.7,569.0M652.6,564.7L656.2,565.0M676.2,563.9L679.8,564.2M53.0,588.5L56.4,587.7M78.3,584.6L80.5,583.3M94.2,588.3L96.9,587.1M113.6,580.1L117.4,579.7M137.3,579.6L140.0,578.4M160.9,585.9L163.6,584.8M186.0,588.3L190.0,588.1M197.3,580.2L201.5,580.4M228.2,578.6L231.4,577.6M243.8,586.2L245.9,584.8M263.2,585.5L267.4,585.5M281.1,583.8L284.8,583.3M311.8,581.5L316.1,581.8M325.7,578.5L328.0,577.2M351.1,578.1L354.0,577.9M366.8,576.6L371.0,577.7M389.6,587.8L393.4,588.3M409.9,587.9L412.3,587.5M439.8,577.0L442.7,576.8M455.2,576.3L459.1,576.9M471.3,586.5L473.7,586.1M497.4,579.1L500.3,579.0M517.8,581.0L521.0,581.0M541.0,579.0L543.7,578.7M561.6,579.6L565.8,580.6M580.4,582.4L582.8,582.0M595.9,577.6L599.6,577.9M624.8,587.9L628.1,588.0M646.7,580.8L649.3,580.5M663.6,584.6L667.5,585.3M691.2,586.4L694.7,586.6M771.8,582.7L775.4,582.9M794.7,583.9L797.6,583.7M44.2,603.1L48.5,603.2M68.9,602.8L71.8,601.8M86.8,603.0L89.7,601.9M111.5,595.0L115.4,594.7M132.9,599.1L134.9,597.8M148.1,602.0L152.0,601.7M176.4,598.0L178.5,596.6M187.6,606.9L191.3,606.4M208.4,602.9L212.7,603.2M235.1,597.4L239.4,597.7M257.4,597.1L261.4,596.8M276.6,602.2L279.5,601.1M294.8,600.2L298.2,599.4M318.5,605.9L320.6,604.5M335.6,605.9L339.2,606.2M362.0,602.4L364.9,602.2M380.4,597.4L383.1,597.2M407.8,603.3L411.9,604.1M417.5,603.3L420.5,603.2M444.8,603.1L447.2,602.7M463.4,601.0L467.5,601.9M486.4,598.4L490.0,598.8M508.3,598.2L511.7,598.4M525.8,595.0L528.8,594.9M544.3,600.6L547.7,600.8M574.5,603.5L578.4,604.1M597.3,598.0L600.4,597.9M609.1,595.9L612.5,596.1M633.1,595.9L637.2,596.8M660.6,595.8L662.9,595.4M669.7,603.2L673.8,604.0M691.1,594.8L694.5,595.0M715.8,595.2L718.2,594.8M735.0,597.2L738.0,597.1M760.2,597.9L763.0,597.7M777.1,605.5L780.0,605.3M802.1,600.3L805.2,600.2" stroke="#000" stroke-width="1.1" fill="none"/>
<path d="M326.5,131.3h1.4M170.6,184.8h1.4M205.9,185.5h1.4M264.1,161.7h1.4M292.8,179.7h1.4M94.2,200.1h1.4M151.2,219.9h1.4M187.4,200.0h1.4M453.0,213.5h1.4M123.8,237.9h1.4M159.9,239.0h1.4M315.8,243.9h1.4M431.8,252.1h1.4M293.0,296.1h1.4M324.3,292.0h1.4M365.7,290.4h1.4M257.6,319.8h1.4M290.1,321.9h1.4M381.4,330.0h1.4M377.4,360.5h1.4" stroke="#000" stroke-width="1.3" fill="none"/>
<path d="M629.4,295.4L625.9,295.7M571.7,306.1L569.6,306.9M584.1,310.5L581.7,311.1M595.1,305.9L592.6,306.5M637.9,310.0L635.8,310.7M575.9,318.5L572.7,319.0M589.7,321.6L587.5,322.3M615.5,321.8L612.1,322.2M631.8,321.8L630.4,322.5M644.3,322.1L642.7,322.8M656.2,318.5L653.6,319.2M531.0,328.7L528.6,336.7M638.5,334.1L635.4,334.6M548.5,342.7L546.4,343.5M588.2,344.6L585.2,345.1M604.5,343.5L602.1,344.2M542.2,350.1L540.4,357.6M649.9,353.3L650.1,359.7M536.7,361.1L533.6,369.5M551.0,360.9L547.1,369.7M542.2,375.1L539.4,383.4M665.0,377.8L664.6,381.6M675.9,375.5L675.4,379.3M536.9,385.5L534.4,393.5M656.6,386.7L650.6,389.0M669.4,390.1L669.0,393.8M682.8,388.3L682.5,391.9M525.7,396.1L524.3,403.2M540.2,396.2L538.9,403.2M622.9,400.6L617.4,403.0M639.6,403.8L634.6,406.3M666.1,403.8L660.5,406.2M472.3,413.0L465.3,417.5M484.2,414.5L474.2,418.0M501.0,414.5L492.0,418.4M542.3,410.0L532.7,413.6M550.9,410.0L540.9,413.4M619.5,414.8L613.3,417.0M662.8,411.6L655.3,413.2M452.7,422.3L445.3,430.7M463.3,424.2L454.2,428.1M479.6,421.3L471.2,425.5M492.2,421.5L482.6,425.2M507.4,423.8L497.4,427.2M519.4,422.1L510.9,426.3M535.4,423.0L526.5,426.9M542.7,422.0L535.3,426.5M563.2,426.0L552.0,428.6M598.2,424.7L597.6,432.6M625.9,420.2L624.1,429.2M441.6,435.1L434.8,443.5M462.2,439.3L451.0,441.9M470.6,433.5L462.4,437.8M485.3,436.0L475.8,439.7M513.0,438.6L502.1,441.4M525.5,434.7L514.6,437.6M536.5,433.6L527.1,437.3M551.9,433.4L545.1,438.0M579.1,434.8L577.2,444.0M434.8,442.4L428.3,450.7M452.2,447.8L446.6,455.9M477.5,444.8L471.7,453.0M488.9,443.3L482.2,451.7M569.6,442.6L568.7,450.7M596.7,448.5L596.8,455.3M610.4,444.7L609.7,452.6M625.4,448.1L624.4,456.3M459.5,457.7L452.1,466.2M468.4,455.6L460.2,464.1M481.0,455.7L475.3,463.9M588.3,455.0L587.8,462.6M613.8,455.2L613.4,462.7M465.2,471.2L461.0,478.8M478.8,471.1L474.7,478.8M569.5,467.9L568.8,475.8M597.0,471.3L595.2,480.3M611.3,471.3L611.0,478.6M625.3,468.2L625.4,474.9M604.2,477.9L602.5,486.8" stroke="#000" stroke-width="1.1" fill="none"/>
<path d="M528.6,336.7L528.2,333.2L530.9,334.0ZM540.4,357.6L539.8,354.2L542.5,354.8ZM650.1,359.7L648.6,356.6L651.4,356.5ZM533.6,369.5L533.4,366.0L536.0,367.0ZM547.1,369.7L547.1,366.2L549.7,367.3ZM539.4,383.4L539.1,379.9L541.7,380.8ZM534.4,393.5L534.0,390.1L536.7,390.9ZM650.6,389.0L653.1,386.5L654.1,389.1ZM524.3,403.2L523.6,399.8L526.3,400.3ZM538.9,403.2L538.1,399.8L540.8,400.3ZM617.4,403.0L619.8,400.4L620.9,403.0ZM660.5,406.2L662.9,403.6L664.0,406.2ZM465.3,417.5L467.2,414.6L468.7,417.0ZM474.2,418.0L476.7,415.6L477.7,418.3ZM492.0,418.4L494.4,415.8L495.5,418.4ZM532.7,413.6L535.2,411.2L536.2,413.8ZM540.9,413.4L543.5,411.0L544.4,413.7ZM613.3,417.0L615.8,414.6L616.7,417.3ZM655.3,413.2L658.1,411.2L658.7,413.9ZM445.3,430.7L446.4,427.4L448.5,429.3ZM454.2,428.1L456.6,425.6L457.7,428.1ZM471.2,425.5L473.4,422.8L474.7,425.3ZM482.6,425.2L485.1,422.8L486.1,425.4ZM497.4,427.2L500.0,424.8L500.9,427.5ZM510.9,426.3L513.2,423.6L514.4,426.1ZM526.5,426.9L528.9,424.4L530.0,426.9ZM535.3,426.5L537.3,423.6L538.8,426.0ZM552.0,428.6L554.8,426.5L555.4,429.2ZM597.6,432.6L596.5,429.2L599.3,429.5ZM624.1,429.2L623.4,425.8L626.1,426.3ZM434.8,443.5L435.7,440.1L437.9,441.9ZM451.0,441.9L453.8,439.8L454.4,442.5ZM462.4,437.8L464.6,435.1L465.9,437.5ZM475.8,439.7L478.3,437.2L479.3,439.8ZM502.1,441.4L504.8,439.3L505.6,442.0ZM514.6,437.6L517.3,435.4L518.1,438.1ZM527.1,437.3L529.6,434.9L530.6,437.5ZM545.1,438.0L546.9,435.0L548.5,437.3ZM577.2,444.0L576.5,440.6L579.2,441.1ZM428.3,450.7L429.1,447.3L431.3,449.0ZM446.6,455.9L447.2,452.5L449.6,454.1ZM471.7,453.0L472.4,449.6L474.7,451.2ZM482.2,451.7L483.1,448.3L485.3,450.1ZM568.7,450.7L567.7,447.3L570.5,447.6ZM596.8,455.3L595.4,452.1L598.2,452.0ZM609.7,452.6L608.5,449.3L611.3,449.6ZM624.4,456.3L623.4,453.0L626.1,453.3ZM452.1,466.2L453.1,462.9L455.2,464.7ZM460.2,464.1L461.4,460.8L463.4,462.8ZM475.3,463.9L476.0,460.4L478.3,462.0ZM587.8,462.6L586.6,459.3L589.4,459.5ZM613.4,462.7L612.2,459.4L615.0,459.5ZM461.0,478.8L461.3,475.4L463.8,476.7ZM474.7,478.8L475.0,475.3L477.5,476.6ZM568.8,475.8L567.6,472.5L570.4,472.7ZM595.2,480.3L594.5,476.9L597.2,477.5ZM611.0,478.6L609.8,475.3L612.6,475.4ZM625.4,474.9L624.0,471.7L626.8,471.7ZM602.5,486.8L601.7,483.4L604.5,483.9Z" fill="#000"/>
<polyline points="311.0,65.3 316.0,62.7 321.3,62.7 326.7,60.0 332.0,56.7 340.0,54.7 344.0,59.3 353.3,59.3 358.7,62.7 360.6,60.1 362.9,56.9 359.0,55.3 357.4,52.9 355.0,49.0 353.8,46.2 355.8,44.2 358.2,43.1 362.2,42.3 367.7,41.1 371.6,41.9 375.6,44.2 381.1,47.4 385.9,50.6 390.6,52.9 393.0,56.1 393.8,63.2 395.4,68.0 398.5,72.7 400.9,76.7 398.6,84.2 401.0,98.4 406.9,107.9 408.1,117.4 414.0,129.3 422.6,140.0 427.3,143.6 433.3,141.2 441.6,145.9 451.0,154.2 459.4,166.1 466.5,182.7 470.0,197.0 471.9,208.8 472.4,221.9 470.0,230.2 468.9,242.1 458.2,253.9 453.4,256.3 446.3,263.4 442.4,274.2 435.3,283.7 423.4,286.1 423.4,293.2 421.0,298.0 422.2,305.1 416.3,317.0 409.2,324.1 404.4,331.2 399.7,340.7 404.4,350.2 402.1,357.3 390.2,364.4 376.0,372.7 361.7,378.7 347.5,382.2 335.6,385.8 323.7,390.1 318.2,390.4 306.8,388.3 295.4,384.0 286.9,379.8 284.0,374.8 278.3,371.2 274.1,365.5 271.2,359.8 266.9,357.7 257.0,355.6 247.0,351.3 238.5,347.7 231.4,347.7 227.8,344.2" stroke="#000" stroke-width="1.1" stroke-linejoin="round" fill="none"/>
<polyline points="234.7,326.4 234.7,319.3 225.2,320.5 224.0,321.7 220.4,318.1 215.7,313.4 222.8,305.1 231.1,294.4 234.7,287.3 240.6,282.5 250.1,276.6 253.6,279.6 254.8,283.7 252.5,289.0 251.3,291.4 256.0,287.3 256.6,283.7 257.2,277.8 259.6,273.0 260.8,267.1 262.0,260.0 263.6,240.0 260.2,237.7 253.1,230.5 246.0,225.8 236.5,221.0 227.0,218.7 217.5,217.5 205.6,225.8 197.0,233.0 184.4,244.6 168.9,250.1 153.3,252.4 137.8,254.0 125.3,249.3 119.1,243.1 114.4,235.3 112.1,229.9 108.2,235.3 106.7,240.8 107.4,243.1 106.7,248.5 102.0,249.3 95.8,246.2 90.3,242.3 80.2,241.5 75.6,235.3 77.1,232.2 77.9,224.4 80.2,216.7 88.0,212.8 88.8,208.9 88.0,203.4 92.7,198.8 96.5,196.4 98.9,197.2 103.5,202.7 111.3,203.4 117.6,203.4 119.1,200.3 120.7,201.1 122.2,207.3 123.8,203.4 126.9,201.1 130.0,198.8 136.2,197.2 140.9,198.8 147.1,201.1 153.3,207.3 155.7,201.1 158.0,190.2 156.4,185.6 158.0,177.0 168.9,175.4 170.0,173.6 179.5,171.2 186.6,164.1 192.5,155.8 200.9,149.8 212.7,147.5 227.0,146.3 236.1,137.2 245.0,131.7 251.7,128.9 258.3,123.3 262.0,115.0" stroke="#000" stroke-width="1.1" stroke-linejoin="round" fill="none"/>
<polyline points="44.0,382.5 49.5,377.0 59.0,374.0 62.5,362.2 70.8,358.6 86.3,352.7 86.3,345.6 96.9,340.8 106.4,337.3 115.9,332.5 125.4,333.7 139.6,336.1 148.0,331.3 151.5,329.0 162.2,326.6 177.6,329.0 191.8,331.3 201.3,333.7 210.9,331.2 214.5,328.8 222.8,326.4 228.7,325.2 232.3,327.6 234.7,326.4" stroke="#000" stroke-width="1.1" stroke-linejoin="round" fill="none"/>
<polyline points="227.8,344.2 232.8,352.7 242.7,359.8 251.3,365.5 259.8,371.2 266.9,375.5 272.6,381.2 278.3,386.9 285.4,394.0 289.7,400.0 293.9,403.3 311.7,423.3 329.4,441.1 342.8,454.4 349.4,472.2 365.0,470.0 378.3,472.2 400.6,465.6 416.5,462.5 422.6,458.4" stroke="#000" stroke-width="1.1" stroke-linejoin="round" fill="none"/>
<polyline points="469.9,487.2 482.3,485.2 490.5,484.1 502.8,482.1 515.2,483.1 523.4,487.2 531.6,482.1 539.8,479.0 552.2,479.0 560.0,486.6 566.6,489.9 573.3,496.6 580.0,504.3 584.4,509.9 585.5,515.4 588.8,519.8 593.2,518.7 593.2,513.2 595.5,509.9" stroke="#000" stroke-width="1.1" stroke-linejoin="round" fill="none"/>
<polyline points="603.2,499.9 612.1,499.3 622.0,501.0 630.9,503.2 640.0,505.4 646.7,510.0 658.3,515.0 666.7,523.3 676.7,536.7 686.7,550.0 695.0,563.3 698.3,576.7 706.7,581.7 716.7,586.7 723.3,595.0 730.0,591.7 740.0,592.0 746.2,593.5 750.9,589.7 757.1,587.3 763.3,579.5 766.4,574.9 775.8,572.6 780.4,568.7 786.7,565.6 794.4,565.6 805.3,564.8 813.1,567.9 824.0,571.8 831.8,571.8 833.3,576.4 836.4,584.2 839.5,590.4 844.2,599.8 844.2,608.0" stroke="#000" stroke-width="1.1" stroke-linejoin="round" fill="none"/>
<polyline points="422.6,458.4 426.7,448.1 430.8,437.9 435.0,429.6 441.1,426.6 447.3,423.5 449.4,417.3 455.5,412.2 463.8,409.1 472.0,405.0 482.3,405.0 494.6,407.0 506.9,411.1 515.2,414.2 519.3,409.1 519.3,400.8 515.2,396.7 504.9,393.7 511.1,389.5 517.2,388.5 520.9,386.3 519.0,378.7 517.1,369.2 509.5,363.5 511.4,357.8 507.6,342.7 513.3,342.7 522.8,338.9 522.8,331.3 528.5,325.6 534.2,318.0 539.9,306.6 535.4,300.3 538.0,291.4 541.8,289.5 548.1,290.1 551.9,288.9 554.4,285.1 559.5,283.8 565.8,287.0 568.0,292.0 570.0,300.0 573.4,300.0 576.0,299.0 581.0,293.9 583.5,288.9 588.6,287.6 594.9,289.5 600.6,287.6 606.3,287.6 613.9,290.4 622.8,288.5 634.2,287.6 641.8,293.3 651.3,298.0 658.9,300.9 660.8,310.4 662.7,321.8 665.5,330.3 672.1,337.0 675.5,348.5 674.8,358.5 675.5,368.5 681.2,367.1 688.3,369.9 692.6,377.0 691.9,387.0 688.3,399.8 682.6,409.8 675.5,418.4 671.2,421.2 664.1,419.8 658.4,416.9 647.0,415.5 635.6,415.5 627.0,414.1 624.2,415.5 627.0,419.8 629.2,424.6 630.4,434.1 626.8,443.6 624.5,455.5 629.2,462.6 629.2,472.1 624.5,479.2 615.0,484.0 607.8,486.3 603.2,487.7" stroke="#000" stroke-width="1.1" stroke-linejoin="round" fill="none"/>
<polyline points="593.2,487.7 594.3,484.4 592.2,482.3 587.5,480.7 584.3,479.1 579.6,474.4 571.6,477.5 565.3,479.1 560.6,477.5 565.3,472.8 560.6,468.0 559.0,463.3 566.9,458.5 563.7,453.8 566.9,447.5 555.8,442.7 543.7,442.4 534.2,443.6 520.0,441.2 515.2,442.0 502.8,445.1 494.6,450.2 488.4,456.4 486.4,466.7 484.3,474.9 478.1,479.0 472.0,481.1 469.9,487.2" stroke="#000" stroke-width="1.1" stroke-linejoin="round" fill="none"/>
<polyline points="100.0,197.0 101.0,192.0 104.0,189.0 106.4,187.8 105.5,193.0 103.0,196.5" stroke="#000" stroke-width="1.1" stroke-linejoin="round" fill="none"/>
<polygon points="555.1,333.2 560.8,335.1 572.1,337.0 579.7,340.8 583.5,346.5 591.1,350.2 604.2,351.4 615.6,348.5 637.0,348.5 642.7,351.4 647.0,358.5 652.7,364.9 659.8,369.9 665.5,377.0 658.4,384.2 649.8,387.0 639.9,389.2 628.5,390.6 618.5,391.3 612.8,395.6 611.2,400.0 609.6,403.2 604.9,409.5 600.1,412.7 595.4,416.6 590.6,422.2 584.3,420.6 574.8,417.4 568.5,412.7 555.8,409.5 549.5,407.9 546.1,405.6 548.5,398.5 548.5,384.2 549.7,370.0 551.3,371.1 553.2,356.0" stroke="#000" stroke-width="1.1" stroke-linejoin="round" fill="none"/>
<polygon points="233.5,314.6 234.7,312.2 239.4,307.4 241.8,305.1 244.1,307.4 246.5,308.6 250.1,306.3 253.6,307.4 253.6,311.0 247.7,313.4 240.6,315.8 235.8,316.9" stroke="#000" stroke-width="1.1" stroke-linejoin="round" fill="none"/>
<polygon points="551.9,288.5 551.9,302.8 555.7,307.8 560.8,309.1 564.6,305.3 565.8,299.0 563.3,292.7 560.8,288.0" stroke="#000" stroke-width="1.1" stroke-linejoin="round" fill="none"/>
<polyline points="786.7,573.0 800.0,576.7 813.0,578.0 826.7,586.7 833.0,593.0 838.0,603.0 840.0,608.0" stroke="#000" stroke-width="1.1" stroke-linejoin="round" fill="none"/>
<path d="M237.6,128.3L246,129.5" stroke="#000" stroke-width="1.2"/>
<path d="M281.5,327.5L283.5,322.5L286.5,320.2L289.2,321.5L288,324.5L290,330.5M283.5,322.5L286,326.5L283.5,329.5L282,327.5M286,326.5L288.2,326" stroke="#000" stroke-width="1" fill="none"/>
<path d="M147.5,335L149.5,330.5L152,327.5L154,323.5L151,320.5L147,320" stroke="#000" stroke-width="1" fill="none"/>
<circle cx="320.3" cy="56.9" r="7" fill="none" stroke="#FF00FF" stroke-width="1"/>
<circle cx="364.2" cy="56.4" r="7" fill="none" stroke="#FF00FF" stroke-width="1"/>
<circle cx="390.3" cy="56.9" r="7" fill="none" stroke="#FF00FF" stroke-width="1"/>
<circle cx="407.4" cy="123.3" r="7" fill="none" stroke="#FF00FF" stroke-width="1"/>
<circle cx="251.1" cy="123.8" r="7" fill="none" stroke="#FF00FF" stroke-width="1"/>
<circle cx="208.5" cy="200.2" r="7" fill="none" stroke="#FF00FF" stroke-width="1"/>
<circle cx="226.5" cy="211.1" r="7" fill="none" stroke="#FF00FF" stroke-width="1"/>
<circle cx="148.3" cy="200.3" r="7" fill="none" stroke="#FF00FF" stroke-width="1"/>
<circle cx="77.1" cy="241.2" r="7" fill="none" stroke="#FF00FF" stroke-width="1"/>
<circle cx="415.6" cy="298" r="7" fill="none" stroke="#FF00FF" stroke-width="1"/>
<circle cx="354.5" cy="360.5" r="7" fill="none" stroke="#FF00FF" stroke-width="1"/>
<circle cx="329.2" cy="386.3" r="7" fill="none" stroke="#FF00FF" stroke-width="1"/>
<circle cx="260.5" cy="266.1" r="7" fill="none" stroke="#FF00FF" stroke-width="1"/>
<circle cx="280.2" cy="273.2" r="7" fill="none" stroke="#FF00FF" stroke-width="1"/>
<circle cx="232.5" cy="325.4" r="7" fill="none" stroke="#FF00FF" stroke-width="1"/>
<circle cx="207.3" cy="337.3" r="7" fill="none" stroke="#FF00FF" stroke-width="1"/>
<circle cx="255.6" cy="340.3" r="7" fill="none" stroke="#FF00FF" stroke-width="1"/>
<circle cx="146.8" cy="332" r="7" fill="none" stroke="#FF00FF" stroke-width="1"/>
<circle cx="604.8" cy="288.2" r="7" fill="none" stroke="#FF00FF" stroke-width="1"/>
<circle cx="640.6" cy="310.2" r="7" fill="none" stroke="#FF00FF" stroke-width="1"/>
<circle cx="522" cy="391.3" r="7" fill="none" stroke="#FF00FF" stroke-width="1"/>
<circle cx="519.3" cy="419.2" r="7" fill="none" stroke="#FF00FF" stroke-width="1"/>
<circle cx="536" cy="441.3" r="7" fill="none" stroke="#FF00FF" stroke-width="1"/>
<circle cx="424.7" cy="463" r="7" fill="none" stroke="#FF00FF" stroke-width="1"/>
<circle cx="597.5" cy="419.5" r="7" fill="none" stroke="#FF00FF" stroke-width="1"/>
<circle cx="604.8" cy="495.6" r="7" fill="none" stroke="#FF00FF" stroke-width="1"/>
<path d="M354,202.2h9M358.6,197.8v9" stroke="#FF00FF" stroke-width="1.8"/>
<path d="M235.2,338.4l7.6,7M242.8,338.9l-7.6,6.6" stroke="#FF00FF" stroke-width="1.5"/>
</g>
<rect x="459" y="82" width="13.3" height="10" fill="#000A80"/>
<rect x="472" y="82" width="13.3" height="10" fill="#000C88"/>
<rect x="485" y="82" width="7.3" height="10" fill="#00189C"/>
<rect x="492" y="82" width="7.3" height="10" fill="#0020A4"/>
<rect x="499" y="82" width="5.3" height="10" fill="#0030B0"/>
<rect x="504" y="82" width="5.3" height="10" fill="#003CBA"/>
<rect x="509" y="82" width="5.3" height="10" fill="#0048C4"/>
<rect x="514" y="82" width="5.3" height="10" fill="#0052CE"/>
<rect x="519" y="82" width="6.3" height="10" fill="#0060D8"/>
<rect x="525" y="82" width="6.3" height="10" fill="#0068E0"/>
<rect x="531" y="82" width="6.3" height="10" fill="#0078EC"/>
<rect x="537" y="82" width="6.3" height="10" fill="#1088F4"/>
<rect x="543" y="82" width="6.3" height="10" fill="#1898F4"/>
<rect x="549" y="82" width="6.3" height="10" fill="#08B0F0"/>
<rect x="555" y="82" width="7.3" height="10" fill="#00C0EC"/>
<rect x="562" y="82" width="5.3" height="10" fill="#00D0DC"/>
<rect x="567" y="82" width="5.3" height="10" fill="#00D0D0"/>
<rect x="572" y="82" width="6.3" height="10" fill="#00C8C0"/>
<rect x="578" y="82" width="5.3" height="10" fill="#00C4B4"/>
<rect x="583" y="82" width="5.3" height="10" fill="#00C0A8"/>
<rect x="588" y="82" width="6.3" height="10" fill="#00BC98"/>
<rect x="594" y="82" width="6.3" height="10" fill="#00B888"/>
<rect x="600" y="82" width="6.3" height="10" fill="#00B878"/>
<rect x="606" y="82" width="6.3" height="10" fill="#00B868"/>
<rect x="612" y="82" width="6.3" height="10" fill="#00BC58"/>
<rect x="618" y="82" width="6.3" height="10" fill="#00C048"/>
<rect x="624" y="82" width="6.3" height="10" fill="#00C438"/>
<rect x="630" y="82" width="6.3" height="10" fill="#00C828"/>
<rect x="636" y="82" width="5.3" height="10" fill="#08D018"/>
<rect x="641" y="82" width="5.3" height="10" fill="#10D410"/>
<rect x="646" y="82" width="5.3" height="10" fill="#30DC10"/>
<rect x="651" y="82" width="5.3" height="10" fill="#50E410"/>
<rect x="656" y="82" width="6.3" height="10" fill="#78EC10"/>
<rect x="662" y="82" width="6.3" height="10" fill="#A0F008"/>
<rect x="668" y="82" width="6.3" height="10" fill="#B8F000"/>
<rect x="674" y="82" width="6.3" height="10" fill="#C8F010"/>
<rect x="680" y="82" width="6.3" height="10" fill="#D8F008"/>
<rect x="686" y="82" width="6.3" height="10" fill="#E8F000"/>
<rect x="692" y="82" width="6.3" height="10" fill="#F0E800"/>
<rect x="698" y="82" width="6.3" height="10" fill="#F0E000"/>
<rect x="704" y="82" width="6.3" height="10" fill="#F8D400"/>
<rect x="710" y="82" width="6.3" height="10" fill="#F8C800"/>
<rect x="716" y="82" width="6.3" height="10" fill="#F8BC00"/>
<rect x="722" y="82" width="6.3" height="10" fill="#F8B000"/>
<rect x="728" y="82" width="6.3" height="10" fill="#F8A800"/>
<rect x="734" y="82" width="6.3" height="10" fill="#F0A000"/>
<rect x="740" y="82" width="6.3" height="10" fill="#F09800"/>
<rect x="746" y="82" width="6.3" height="10" fill="#E88C00"/>
<rect x="752" y="82" width="6.3" height="10" fill="#E88000"/>
<rect x="758" y="82" width="6.3" height="10" fill="#E07400"/>
<rect x="764" y="82" width="6.3" height="10" fill="#E07000"/>
<rect x="770" y="82" width="6.3" height="10" fill="#D86000"/>
<rect x="776" y="82" width="6.3" height="10" fill="#D05400"/>
<rect x="782" y="82" width="6.3" height="10" fill="#C84800"/>
<rect x="788" y="82" width="6.3" height="10" fill="#C03C00"/>
<rect x="794" y="82" width="6.3" height="10" fill="#B83000"/>
<rect x="800" y="82" width="6.3" height="10" fill="#B02000"/>
<rect x="806" y="82" width="6.3" height="10" fill="#A81800"/>
<rect x="812" y="82" width="5.3" height="10" fill="#A41000"/>
<rect x="817" y="82" width="4.3" height="10" fill="#A00800"/>
<path d="M509.4,79 V82 M509.4,92 V95 M588.4,79 V82 M588.4,92 V95 M667.4,79 V82 M667.4,92 V95 M746.4,79 V82 M746.4,92 V95" stroke="#262626" stroke-width="1"/>
<text x="509.3" y="115.9" font-size="16" fill="#262626" text-anchor="middle" textLength="8.0" lengthAdjust="spacingAndGlyphs" >0</text>
<text x="588.7" y="115.9" font-size="16" fill="#262626" text-anchor="middle" textLength="24.0" lengthAdjust="spacingAndGlyphs" >0.5</text>
<text x="668.0" y="115.9" font-size="16" fill="#262626" text-anchor="middle" textLength="8.4" lengthAdjust="spacingAndGlyphs" >1</text>
<text x="747.0" y="115.9" font-size="16" fill="#262626" text-anchor="middle" textLength="23.8" lengthAdjust="spacingAndGlyphs" >1.5</text>
<text x="38.4" y="84.1" font-size="12.8" fill="#262626" text-anchor="end" textLength="33.0" lengthAdjust="spacingAndGlyphs" >-37.9</text>
<text x="38.4" y="149.9" font-size="12.8" fill="#262626" text-anchor="end" textLength="20.2" lengthAdjust="spacingAndGlyphs" >-38</text>
<text x="38.4" y="215.7" font-size="12.8" fill="#262626" text-anchor="end" textLength="33.0" lengthAdjust="spacingAndGlyphs" >-38.1</text>
<text x="38.4" y="281.5" font-size="12.8" fill="#262626" text-anchor="end" textLength="33.0" lengthAdjust="spacingAndGlyphs" >-38.2</text>
<text x="38.4" y="347.3" font-size="12.8" fill="#262626" text-anchor="end" textLength="33.0" lengthAdjust="spacingAndGlyphs" >-38.3</text>
<text x="38.4" y="413.1" font-size="12.8" fill="#262626" text-anchor="end" textLength="33.0" lengthAdjust="spacingAndGlyphs" >-38.4</text>
<text x="38.4" y="478.9" font-size="12.8" fill="#262626" text-anchor="end" textLength="33.0" lengthAdjust="spacingAndGlyphs" >-38.5</text>
<text x="38.4" y="544.7" font-size="12.8" fill="#262626" text-anchor="end" textLength="33.0" lengthAdjust="spacingAndGlyphs" >-38.6</text>
<text x="96.6" y="624.7" font-size="12.8" fill="#262626" text-anchor="middle" textLength="35.6" lengthAdjust="spacingAndGlyphs" >144.4</text>
<text x="148.3" y="624.7" font-size="12.8" fill="#262626" text-anchor="middle" textLength="35.6" lengthAdjust="spacingAndGlyphs" >144.5</text>
<text x="200.0" y="624.7" font-size="12.8" fill="#262626" text-anchor="middle" textLength="35.6" lengthAdjust="spacingAndGlyphs" >144.6</text>
<text x="251.7" y="624.7" font-size="12.8" fill="#262626" text-anchor="middle" textLength="35.6" lengthAdjust="spacingAndGlyphs" >144.7</text>
<text x="303.4" y="624.7" font-size="12.8" fill="#262626" text-anchor="middle" textLength="35.6" lengthAdjust="spacingAndGlyphs" >144.8</text>
<text x="355.1" y="624.7" font-size="12.8" fill="#262626" text-anchor="middle" textLength="35.6" lengthAdjust="spacingAndGlyphs" >144.9</text>
<text x="406.9" y="624.7" font-size="12.8" fill="#262626" text-anchor="middle" textLength="24.2" lengthAdjust="spacingAndGlyphs" >145</text>
<text x="458.6" y="624.7" font-size="12.8" fill="#262626" text-anchor="middle" textLength="35.6" lengthAdjust="spacingAndGlyphs" >145.1</text>
<text x="510.3" y="624.7" font-size="12.8" fill="#262626" text-anchor="middle" textLength="35.6" lengthAdjust="spacingAndGlyphs" >145.2</text>
<text x="562.0" y="624.7" font-size="12.8" fill="#262626" text-anchor="middle" textLength="35.6" lengthAdjust="spacingAndGlyphs" >145.3</text>
<text x="613.7" y="624.7" font-size="12.8" fill="#262626" text-anchor="middle" textLength="35.6" lengthAdjust="spacingAndGlyphs" >145.4</text>
<text x="665.4" y="624.7" font-size="12.8" fill="#262626" text-anchor="middle" textLength="35.6" lengthAdjust="spacingAndGlyphs" >145.5</text>
<text x="717.1" y="624.7" font-size="12.8" fill="#262626" text-anchor="middle" textLength="35.6" lengthAdjust="spacingAndGlyphs" >145.6</text>
<text x="768.8" y="624.7" font-size="12.8" fill="#262626" text-anchor="middle" textLength="35.6" lengthAdjust="spacingAndGlyphs" >145.7</text>
<text x="820.5" y="624.7" font-size="12.8" fill="#262626" text-anchor="middle" textLength="35.6" lengthAdjust="spacingAndGlyphs" >145.8</text>
<text x="458.9" y="45.3" font-size="13" fill="#262626" text-anchor="start" textLength="217.2" lengthAdjust="spacingAndGlyphs" >sea level contours: -1.7 0.2 1.7m</text>
<text x="532.5" y="74.1" font-size="19.5" fill="#262626" text-anchor="start" textLength="214.4" lengthAdjust="spacingAndGlyphs" >tidal current speed (m/s)</text>
<text x="511.6" y="167.5" font-size="16" fill="#262626" text-anchor="start" textLength="182.5" lengthAdjust="spacingAndGlyphs" >slack at x at 17:21 UTC</text>
<text x="511.6" y="184.0" font-size="16" fill="#262626" text-anchor="start" textLength="179.1" lengthAdjust="spacingAndGlyphs" >13-05-2025 17:30 UTC</text>
<text x="511.6" y="200.5" font-size="16" fill="#262626" text-anchor="start" textLength="187.2" lengthAdjust="spacingAndGlyphs" >14-05-2025 03:30 AEST</text>
<circle cx="510.1" cy="229.4" r="6.8" fill="none" stroke="#FF00FF" stroke-width="1"/>
<text x="524.6" y="234.6" font-size="16" fill="#262626" text-anchor="start" textLength="83.7" lengthAdjust="spacingAndGlyphs" >tide gauge</text>
<rect x="620.2" y="223.9" width="11" height="11" fill="none" stroke="#FF00FF" stroke-width="1"/>
<circle cx="625.7" cy="229.4" r="4.3" fill="#00C800"/>
<text x="640.1" y="234.6" font-size="16" fill="#262626" text-anchor="start" textLength="108.9" lengthAdjust="spacingAndGlyphs" >current meter</text>
<path d="M710.6,441.6 H684 M689,438.8 L684,441.6 L689,444.4" stroke="#000" stroke-width="1" fill="none"/>
<text x="718.7" y="447.7" font-size="14.2" fill="#262626" text-anchor="start" textLength="59.9" lengthAdjust="spacingAndGlyphs" >velocity</text>
<path d="M711,458.4 H690" stroke="#FF00FF" stroke-width="3" fill="none"/>
<path d="M683,456.8 L685.5,455.6 L689,455 L692,455.4 L693.2,457 L693.2,460.2 L692,462 L689,462.6 L686,461.8 L683.4,460.6 Z" fill="#FF00FF"/>
<text x="718.7" y="464.3" font-size="14.2" fill="#FF00FF" text-anchor="start" textLength="108.1" lengthAdjust="spacingAndGlyphs" >current meter</text>
<text x="683.2" y="481.7" font-size="14.2" fill="#262626" text-anchor="start" textLength="69.0" lengthAdjust="spacingAndGlyphs" >1.5 (m/s)</text>
<path d="M717,532.5 H744" stroke="#00E0E0" stroke-width="1.3"/>
<text x="718.7" y="545.9" font-size="13" fill="#262626" text-anchor="start" textLength="36.3" lengthAdjust="spacingAndGlyphs" >200m</text>
<text transform="translate(891.3,587) rotate(-90)" x="0" y="0" font-size="12.4" fill="#1a1a1a" textLength="415" lengthAdjust="spacingAndGlyphs">© IMOS 03-Apr-2025 18:37:17 out71_13c . *Not for navigation*</text>
<rect x="24" y="0" width="287" height="122.5" fill="#fff"/>
<path d="M23.6,14 V122.2 H311" fill="none" stroke="#000" stroke-width="1"/>
<path d="M51.8,13.6 V106.3 M89.0,13.6 V106.3 M126.2,13.6 V106.3 M163.4,13.6 V106.3 M200.6,13.6 V106.3 M237.8,13.6 V106.3 M275.0,13.6 V106.3 M45.6,101.9 H288 M45.6,72.4 H288 M45.6,42.9 H288" stroke="#B8C4F0" stroke-width="0.8" stroke-dasharray="1,2" fill="none"/>
<path d="M45.5,59.0 C47.5,58.5 53.8,56.6 57.4,56.3 C61.0,56.0 63.7,56.4 66.9,57.1 C70.1,57.8 73.2,59.4 76.4,60.6 C79.6,61.9 83.0,63.7 85.9,64.6 C88.8,65.5 90.9,66.2 93.8,66.1 C96.7,66.0 99.9,64.7 103.3,63.8 C106.7,62.9 110.6,61.5 114.3,60.6 C118.0,59.7 122.0,58.2 125.4,58.2 C128.8,58.2 131.7,59.4 134.9,60.6 C138.1,61.8 141.2,63.6 144.4,65.4 C147.6,67.2 150.7,69.9 153.9,71.7 C157.1,73.5 160.3,75.6 163.4,76.4 C166.5,77.2 169.3,77.5 172.7,76.4 C176.1,75.4 179.8,72.7 183.7,70.1 C187.6,67.5 192.4,63.0 196.4,60.6 C200.4,58.2 204.0,56.3 207.4,55.5 C210.8,54.7 213.2,55.0 216.9,55.9 C220.6,56.8 225.1,58.9 229.6,60.6 C234.1,62.3 239.6,65.7 243.8,66.2 C248.0,66.7 249.9,65.1 254.9,63.8 C259.9,62.5 269.1,59.0 273.9,58.2 C278.6,57.5 281.8,59.1 283.4,59.3" stroke="#FF00FF" stroke-width="1" fill="none"/>
<path d="M45.5,46.7 C46.4,47.4 49.4,49.3 51.1,51.1 C52.8,52.9 54.0,55.0 55.8,57.4 C57.6,59.8 60.0,63.2 62.1,65.4 C64.2,67.7 66.5,69.7 68.5,70.9 C70.5,72.1 72.2,72.5 74.0,72.5 C75.8,72.5 77.5,72.1 79.5,70.9 C81.5,69.7 83.8,67.4 85.9,65.4 C88.0,63.4 89.8,60.7 92.2,59.0 C94.6,57.3 97.3,56.1 100.1,55.1 C102.9,54.1 106.4,53.0 108.8,53.0 C111.2,53.0 112.3,53.8 114.3,55.1 C116.3,56.4 118.6,58.6 120.7,60.6 C122.8,62.6 124.9,64.3 127.0,66.9 C129.1,69.5 130.9,73.0 133.3,76.4 C135.7,79.8 138.8,85.0 141.2,87.5 C143.6,90.0 145.4,91.0 147.5,91.4 C149.6,91.8 151.8,91.1 153.9,89.9 C156.0,88.7 158.1,86.8 160.2,84.3 C162.3,81.8 164.9,78.0 166.5,74.8 C168.1,71.6 167.9,68.2 169.5,65.0 C171.1,61.9 173.4,58.9 175.8,55.9 C178.2,52.9 180.8,49.5 183.7,47.2 C186.6,45.0 190.6,42.9 193.2,42.4 C195.8,41.9 197.1,42.3 199.5,44.0 C201.9,45.7 204.2,48.9 207.4,52.7 C210.6,56.5 215.1,63.6 218.5,67.0 C221.9,70.4 225.1,72.8 228.0,73.3 C230.9,73.8 233.0,72.5 235.9,70.1 C238.8,67.7 241.7,61.9 245.4,59.0 C249.1,56.1 254.3,53.6 258.0,53.0 C261.7,52.4 264.6,53.6 267.5,55.1 C270.4,56.6 272.9,59.1 275.5,62.2 C278.1,65.4 282.1,72.0 283.4,74.0" stroke="#0000FF" stroke-width="1" fill="none"/>
<path d="M45.5,55.9 C45.9,56.1 46.7,56.1 47.9,57.4 C49.1,58.7 50.9,60.9 52.7,63.8 C54.6,66.7 56.9,71.9 59.0,74.8 C61.1,77.7 63.2,79.7 65.3,81.2 C67.4,82.7 69.2,83.5 71.6,84.0 C74.0,84.5 77.1,84.8 79.5,84.3 C81.9,83.8 83.8,82.8 85.9,81.2 C88.0,79.6 90.4,77.0 92.2,74.8 C94.0,72.5 95.3,69.7 96.9,67.7 C98.5,65.7 99.9,64.2 101.7,63.0 C103.5,61.8 106.2,60.7 108.0,60.3 C109.8,59.9 111.0,59.8 112.8,60.6 C114.6,61.5 116.7,63.0 119.1,65.4 C121.5,67.8 124.4,71.4 127.0,74.8 C129.6,78.2 132.5,83.0 134.9,85.9 C137.3,88.8 139.3,91.0 141.2,92.2 C143.0,93.4 144.4,93.2 146.0,93.0 C147.6,92.8 148.9,91.9 150.7,90.7 C152.5,89.5 155.1,87.5 157.0,85.9 C158.9,84.3 160.4,83.1 162.0,81.0 C163.6,78.9 164.5,76.7 166.3,73.3 C168.1,69.9 170.8,64.2 172.7,60.6 C174.5,57.0 175.6,54.0 177.4,51.9 C179.2,49.8 181.7,48.8 183.7,48.0 C185.7,47.2 187.5,47.0 189.3,47.2 C191.2,47.5 192.8,48.0 194.8,49.5 C196.8,51.0 199.0,53.2 201.1,55.9 C203.2,58.5 205.3,62.0 207.4,65.4 C209.5,68.8 211.7,73.5 213.8,76.4 C215.9,79.4 217.7,81.6 220.1,83.1 C222.5,84.5 225.1,85.1 228.0,85.1 C230.9,85.1 234.9,84.5 237.5,83.1 C240.1,81.6 241.7,79.1 243.8,76.4 C245.9,73.7 248.0,69.5 250.1,66.9 C252.2,64.3 254.1,61.7 256.5,60.6 C258.9,59.5 262.0,59.8 264.4,60.3 C266.8,60.8 268.6,62.2 270.7,63.8 C272.8,65.4 274.9,67.2 277.0,70.1 C279.1,73.0 282.3,79.3 283.4,81.2" stroke="#000" stroke-width="1" fill="none"/>
<rect x="45.6" y="13.6" width="242.4" height="92.7" fill="none" stroke="#000" stroke-width="1.1"/>
<path d="M51.8,106.3 v-2.5 M51.8,13.6 v2.5 M89.0,106.3 v-2.5 M89.0,13.6 v2.5 M126.2,106.3 v-2.5 M126.2,13.6 v2.5 M163.4,106.3 v-2.5 M163.4,13.6 v2.5 M200.6,106.3 v-2.5 M200.6,13.6 v2.5 M237.8,106.3 v-2.5 M237.8,13.6 v2.5 M275.0,106.3 v-2.5 M275.0,13.6 v2.5 M45.6,101.9 h2.5 M45.6,72.4 h2.5 M45.6,42.9 h2.5 M45.6,13.4 h2.5 M288,90.9 h-2.5 M288,65.3 h-2.5 M288,39.7 h-2.5 M288,14.1 h-2.5" stroke="#000" stroke-width="0.8" fill="none"/>
<path d="M48,21.2 H69" stroke="#000" stroke-width="1"/>
<path d="M48,29.3 H69" stroke="#0000FF" stroke-width="1"/>
<path d="M48,38.3 H69" stroke="#FF00FF" stroke-width="1"/>
<text x="73.5" y="24.6" font-size="10.8" fill="#1a1a1a" text-anchor="start" textLength="195.5" lengthAdjust="spacingAndGlyphs" >vel (m/s, 80T) at x 38.295S 144.673E</text>
<text x="73.5" y="33.0" font-size="10.8" fill="#1a1a1a" text-anchor="start" textLength="156.0" lengthAdjust="spacingAndGlyphs" >height (m, scale at right) at x</text>
<text x="73.5" y="41.5" font-size="10.8" fill="#1a1a1a" text-anchor="start" textLength="161.0" lengthAdjust="spacingAndGlyphs" >height (m) at + 38.08S 144.9E</text>
<text x="42.3" y="16.7" font-size="10.2" fill="#1a1a1a" text-anchor="end" textLength="6.0" lengthAdjust="spacingAndGlyphs" >4</text>
<text x="42.3" y="46.2" font-size="10.2" fill="#1a1a1a" text-anchor="end" textLength="6.0" lengthAdjust="spacingAndGlyphs" >2</text>
<text x="42.3" y="75.7" font-size="10.2" fill="#1a1a1a" text-anchor="end" textLength="6.0" lengthAdjust="spacingAndGlyphs" >0</text>
<text x="42.3" y="105.2" font-size="10.2" fill="#1a1a1a" text-anchor="end" textLength="9.8" lengthAdjust="spacingAndGlyphs" >-2</text>
<text x="291.5" y="17.4" font-size="10.2" fill="#1a1a1a" text-anchor="start" textLength="6.0" lengthAdjust="spacingAndGlyphs" >1</text>
<text x="291.5" y="43.0" font-size="10.2" fill="#1a1a1a" text-anchor="start" textLength="15.0" lengthAdjust="spacingAndGlyphs" >0.5</text>
<text x="291.5" y="68.6" font-size="10.2" fill="#1a1a1a" text-anchor="start" textLength="6.0" lengthAdjust="spacingAndGlyphs" >0</text>
<text x="291.5" y="94.2" font-size="10.2" fill="#1a1a1a" text-anchor="start" textLength="19.0" lengthAdjust="spacingAndGlyphs" >-0.5</text>
<text x="51.8" y="118.8" font-size="10.2" fill="#1a1a1a" text-anchor="middle" textLength="16.7" lengthAdjust="spacingAndGlyphs" >-12</text>
<text x="89.0" y="118.8" font-size="10.2" fill="#1a1a1a" text-anchor="middle" textLength="9.3" lengthAdjust="spacingAndGlyphs" >-6</text>
<text x="126.2" y="118.8" font-size="10.2" fill="#1a1a1a" text-anchor="middle" textLength="6.0" lengthAdjust="spacingAndGlyphs" >0</text>
<text x="163.4" y="118.8" font-size="10.2" fill="#1a1a1a" text-anchor="middle" textLength="6.0" lengthAdjust="spacingAndGlyphs" >6</text>
<text x="200.6" y="118.8" font-size="10.2" fill="#1a1a1a" text-anchor="middle" textLength="12.0" lengthAdjust="spacingAndGlyphs" >12</text>
<text x="237.8" y="118.8" font-size="10.2" fill="#1a1a1a" text-anchor="middle" textLength="12.0" lengthAdjust="spacingAndGlyphs" >18</text>
<text x="275.0" y="118.8" font-size="10.2" fill="#1a1a1a" text-anchor="middle" textLength="12.0" lengthAdjust="spacingAndGlyphs" >24</text>
</svg></body></html>
